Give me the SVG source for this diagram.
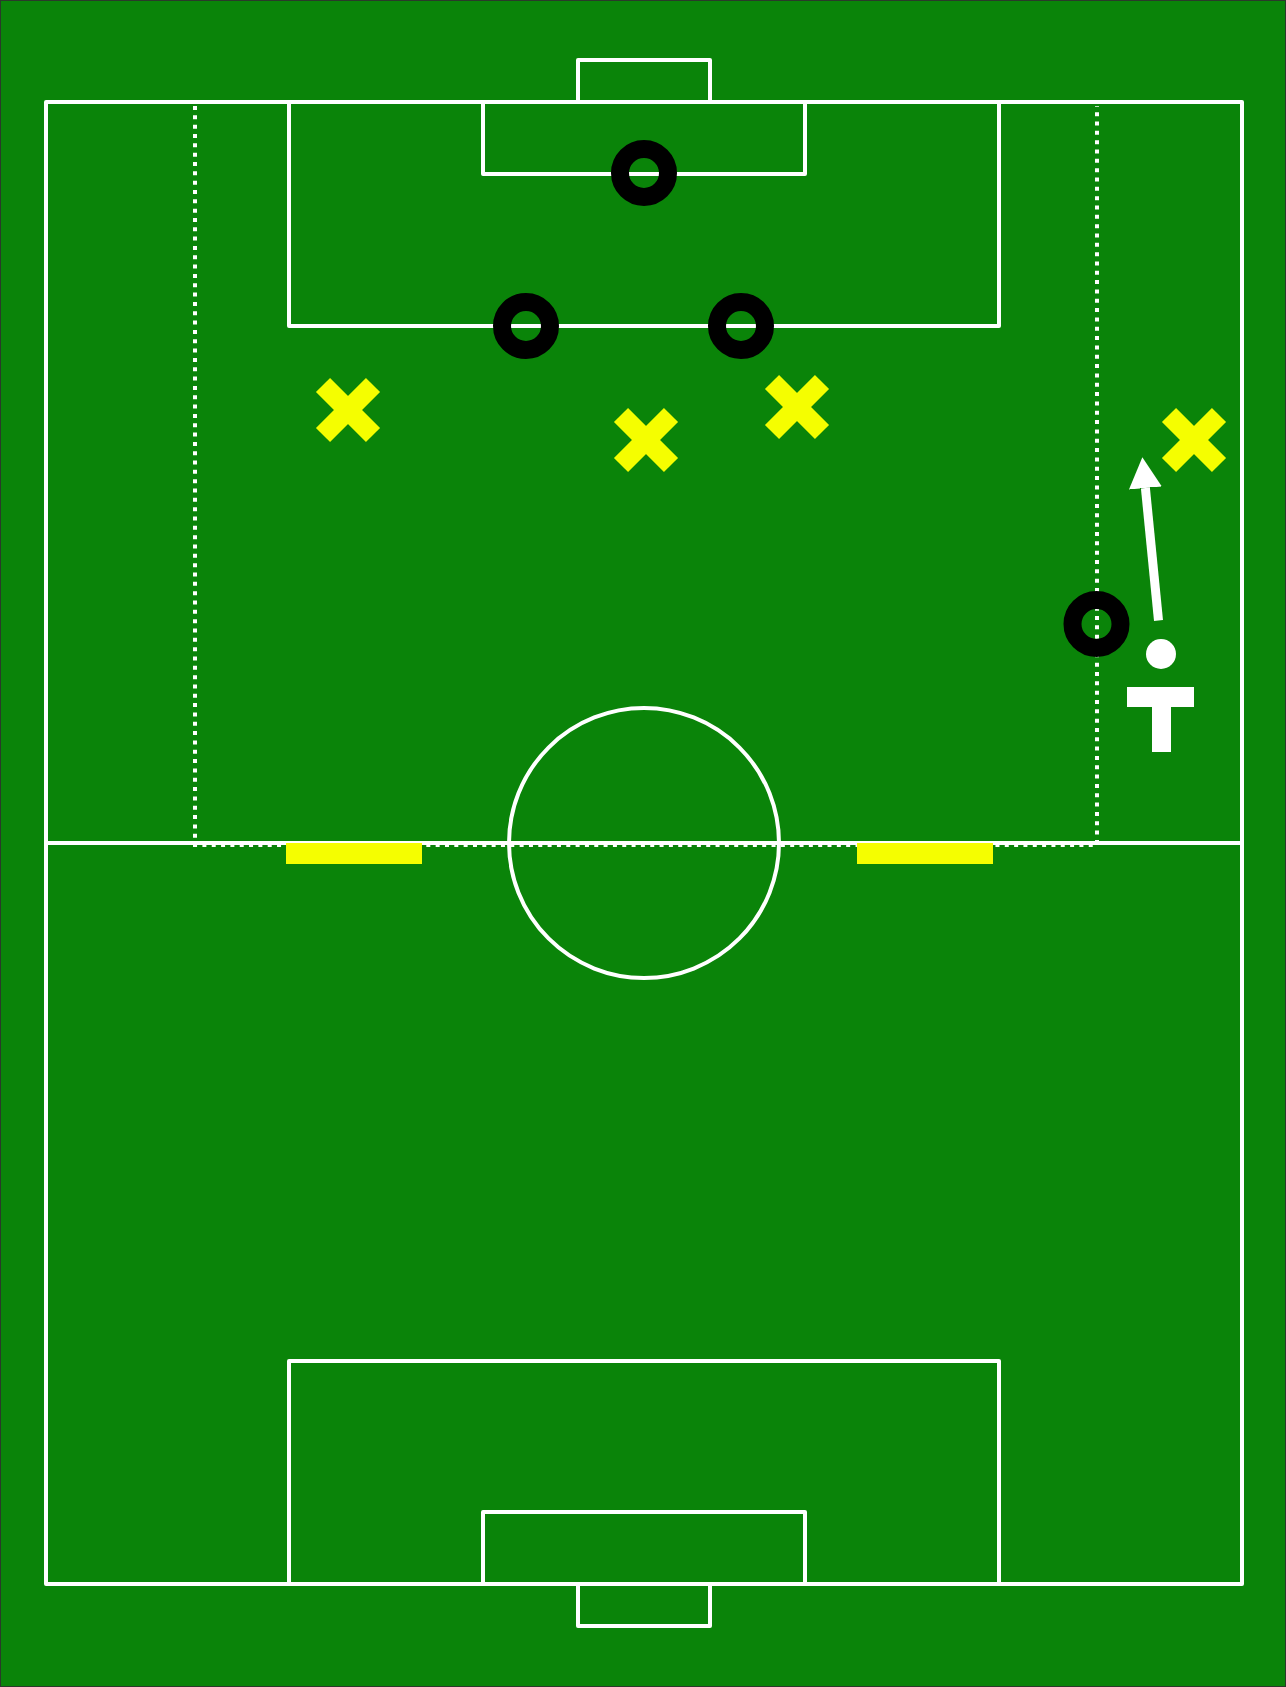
<svg xmlns="http://www.w3.org/2000/svg" xmlns:xlink="http://www.w3.org/1999/xlink" width="1286" height="1687" viewBox="0 0 1286 1687">
<style>
.line{fill:none;stroke:#ffffff;stroke-width:4;stroke-linejoin:round;stroke-linecap:round}
.dot{fill:none;stroke:#ffffff;stroke-width:4;stroke-dasharray:4 5.33}
.opp{fill:none;stroke:#000000;stroke-width:18}
.cross{stroke:#f5fe00;stroke-width:20;fill:none}
.bar{fill:#f5fe00}
.white{fill:#ffffff}
</style>
<defs>
<g id="x" stroke="#f5fe00" stroke-width="20">
<line x1="-25" y1="-25" x2="25" y2="25"/>
<line x1="-25" y1="25" x2="25" y2="-25"/>
</g>
<marker id="head" viewBox="0 0 31 33" refX="0" refY="16.5" markerWidth="31" markerHeight="33" markerUnits="userSpaceOnUse" orient="auto">
<path d="M0,0 L31,16.5 L0,33 Z" fill="#ffffff"/>
</marker>
</defs>
<rect x="0.5" y="0.5" width="1285" height="1686" fill="#0a8409" stroke="#2a3a2a" stroke-width="1"/>
<g id="pitch">
<rect class="line" x="46" y="102" width="1196" height="1482"/>
<line class="line" x1="46" y1="843" x2="1242" y2="843"/>
<circle class="line" cx="644" cy="843" r="135"/>
<path class="line" d="M289,102 V326 H999 V102"/>
<path class="line" d="M483,102 V174 H805 V102"/>
<path class="line" d="M578,102 V60 H710 V102"/>
<path class="line" d="M289,1584 V1361 H999 V1584"/>
<path class="line" d="M483,1584 V1512 H805 V1584"/>
<path class="line" d="M578,1584 V1626 H710 V1584"/>
</g>
<g id="zone">
<path class="dot" d="M195,106 V845 H1097 V106"/>
<rect class="bar" x="286" y="843" width="136" height="21"/>
<rect class="bar" x="857" y="843" width="136" height="21"/>
</g>
<g id="opponents">
<circle id="o1" class="opp" cx="644" cy="173" r="24"/>
<circle id="o2" class="opp" cx="526" cy="326" r="24"/>
<circle id="o3" class="opp" cx="741" cy="326" r="24"/>
<circle id="o4" class="opp" cx="1096.5" cy="624" r="24"/>
</g>
<g id="attackers" class="cross">
<use id="x1" xlink:href="#x" x="348" y="410"/>
<use id="x2" xlink:href="#x" x="646" y="440"/>
<use id="x3" xlink:href="#x" x="797" y="407"/>
<use id="x4" xlink:href="#x" x="1194" y="440"/>
</g>
<g id="ball">
<circle class="white" cx="1161" cy="654" r="15"/>
</g>
<g id="mannequin">
<rect class="white" x="1127" y="687" width="67" height="20"/>
<rect class="white" x="1152" y="706" width="19" height="46"/>
</g>
<g id="connectors">
<line x1="1158.5" y1="620.5" x2="1145.4" y2="488" stroke="#ffffff" stroke-width="9" marker-end="url(#head)"/>
</g>
</svg>
